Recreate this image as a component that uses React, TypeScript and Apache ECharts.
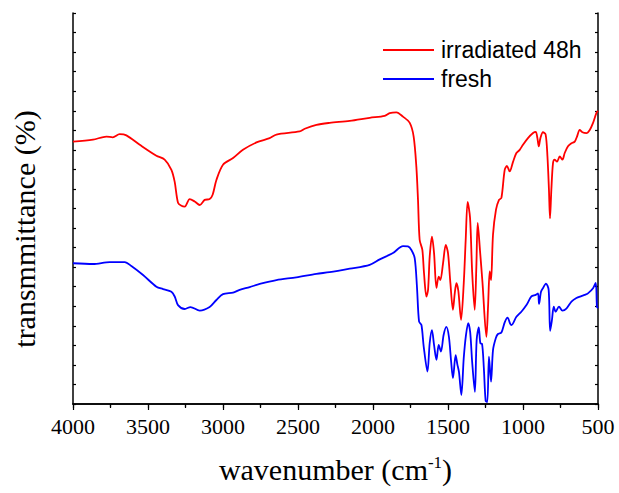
import React, { useEffect, useRef } from "react";
import * as echarts from "echarts";

const seriesNames = ["irradiated 48h", "fresh"];
const xTicks = [4000, 3500, 3000, 2500, 2000, 1500, 1000, 500];

const redWavenumbers = [4000, 3867, 3777, 3735, 3689, 3644, 3555, 3444, 3389, 3344, 3322, 3300, 3277, 3255, 3222, 3189, 3155, 3122, 3089, 3069, 3044, 3000, 2933, 2867, 2777, 2689, 2644, 2489, 2455, 2377, 2289, 2155, 2022, 1922, 1889, 1844, 1800, 1755, 1729, 1711, 1700, 1689, 1671, 1660, 1644, 1633, 1622, 1607, 1593, 1577, 1562, 1551, 1533, 1515, 1500, 1484, 1467, 1455, 1444, 1431, 1413, 1395, 1382, 1369, 1353, 1339, 1322, 1311, 1302, 1287, 1270, 1244, 1233, 1222, 1213, 1200, 1180, 1160, 1144, 1122, 1107, 1089, 1066, 1044, 1022, 1000, 967, 933, 915, 904, 895, 884, 867, 849, 837, 827, 820, 811, 800, 789, 773, 755, 737, 722, 700, 677, 655, 640, 622, 604, 577, 555, 533, 511, 500];
const redValues = [67.1, 67.6, 68.4, 68.2, 69.0, 68.7, 66.3, 63.5, 62.5, 59.9, 56.8, 51.5, 50.7, 50.5, 52.4, 51.8, 50.9, 52.2, 52.4, 53.5, 57.3, 61.2, 62.9, 65.0, 66.9, 68.0, 68.9, 69.7, 70.4, 71.4, 71.9, 72.4, 73.2, 73.7, 74.4, 74.6, 73.5, 71.9, 68.4, 60.7, 52.2, 42.0, 39.4, 33.5, 27.5, 29.2, 37.7, 42.8, 38.6, 29.7, 32.6, 31.7, 36.0, 40.7, 38.6, 30.9, 24.1, 28.3, 30.9, 28.9, 21.5, 30.9, 42.0, 51.7, 47.6, 33.8, 24.1, 35.1, 46.3, 39.4, 31.0, 17.2, 24.9, 33.9, 31.7, 43.3, 49.7, 52.2, 52.7, 59.9, 60.9, 59.5, 62.0, 64.2, 65.0, 66.3, 68.0, 69.3, 69.6, 68.0, 65.9, 68.0, 69.5, 68.9, 63.3, 54.8, 47.5, 54.8, 61.6, 62.5, 62.0, 63.3, 62.5, 64.2, 65.9, 66.7, 67.1, 68.4, 70.1, 69.5, 69.3, 70.1, 71.9, 74.4, 75.0];

const blueWavenumbers = [4000, 3867, 3755, 3655, 3611, 3533, 3444, 3400, 3344, 3322, 3300, 3255, 3217, 3155, 3089, 3044, 3000, 2933, 2889, 2822, 2755, 2644, 2511, 2377, 2289, 2155, 2022, 1955, 1867, 1800, 1767, 1744, 1722, 1707, 1693, 1677, 1662, 1637, 1622, 1607, 1593, 1577, 1562, 1547, 1529, 1511, 1494, 1479, 1467, 1449, 1438, 1427, 1411, 1395, 1380, 1365, 1352, 1339, 1321, 1309, 1295, 1284, 1273, 1261, 1249, 1238, 1227, 1213, 1200, 1181, 1167, 1144, 1122, 1103, 1085, 1077, 1044, 1011, 977, 944, 915, 900, 893, 880, 867, 847, 829, 819, 807, 795, 782, 760, 737, 711, 677, 644, 611, 589, 567, 533, 515, 507, 500];
const blueValues = [36.0, 35.8, 36.3, 36.3, 35.3, 33.0, 30.0, 29.4, 28.7, 27.5, 25.3, 24.3, 24.8, 23.9, 24.8, 26.6, 28.1, 28.5, 29.2, 29.9, 30.7, 31.7, 32.4, 33.3, 33.7, 34.6, 35.6, 37.0, 38.6, 40.4, 40.3, 39.4, 37.3, 30.0, 21.1, 20.2, 14.7, 8.3, 15.6, 18.9, 15.1, 11.3, 15.1, 13.4, 17.7, 19.7, 17.2, 10.8, 6.6, 12.5, 10.2, 8.2, 2.3, 11.8, 17.7, 20.7, 18.3, 10.8, 3.1, 16.4, 19.6, 15.5, 15.4, 9.2, 0.8, 0.5, 12.1, 5.7, 13.8, 16.9, 17.9, 18.3, 20.9, 22.1, 20.5, 20.2, 22.3, 23.6, 25.3, 27.5, 27.9, 28.3, 25.6, 28.7, 29.6, 30.8, 29.2, 18.7, 21.5, 24.9, 23.6, 24.9, 23.9, 24.4, 26.2, 27.1, 27.6, 27.9, 28.3, 29.6, 31.0, 24.9, 24.5];

const zip = (xs: number[], ys: number[]) => xs.map((x, i) => [x, ys[i]]);

export default function App() {
  const ref = useRef<HTMLDivElement>(null);
  useEffect(() => {
    if (!ref.current) return;
    const chart = echarts.init(ref.current, null, { renderer: "svg" });
    const serif = "'Liberation Serif', 'Times New Roman', serif";
    const axisLine = { show: true, lineStyle: { color: "#000", width: 1.5 } };
    chart.setOption({
      animation: false,
      backgroundColor: "#fff",
      grid: { left: 73, right: 21, top: 13, bottom: 89, containLabel: false },
      legend: {
        orient: "vertical",
        left: 383,
        top: 38,
        padding: 0,
        icon: "rect",
        itemWidth: 51,
        itemHeight: 2,
        itemGap: 5,
        data: seriesNames,
        textStyle: { fontFamily: "'Liberation Sans', Arial, sans-serif", fontSize: 23, color: "#000", lineHeight: 24, padding: [0, 0, 0, 2] },
      },
      xAxis: [
        {
          type: "value",
          position: "bottom",
          min: 500,
          max: 4000,
          interval: 500,
          inverse: true,
          name: "{a|wavenumber (cm}{s|-1}{a|)}",
          nameLocation: "middle",
          nameGap: 50,
          nameTextStyle: {
            rich: {
              a: { fontFamily: serif, fontSize: 30, color: "#000" },
              s: { fontFamily: serif, fontSize: 17, color: "#000", verticalAlign: "top", padding: [0, 0, 14, 0] },
            },
          },
          axisLine,
          axisTick: { show: true, inside: false, length: 6, lineStyle: { color: "#000", width: 1.2 } },
          minorTick: { show: true, splitNumber: 2, length: 3, lineStyle: { color: "#000", width: 1.2 } },
          splitLine: { show: false },
          axisLabel: {
            fontFamily: serif,
            fontSize: 22,
            color: "#000",
            margin: 11,
            formatter: (v: number) => (xTicks.includes(v) ? String(v) : ""),
          },
        },
        {
          type: "value",
          position: "top",
          min: 500,
          max: 4000,
          interval: 250,
          inverse: true,
          axisLine,
          axisTick: { show: true, inside: true, length: 4, lineStyle: { color: "#000", width: 1.2 } },
          axisLabel: { show: false },
          splitLine: { show: false },
        },
      ],
      yAxis: [
        {
          type: "value",
          position: "left",
          min: 0,
          max: 100,
          interval: 5,
          axisLine,
          axisTick: { show: true, inside: true, length: 3, lineStyle: { color: "#000", width: 1.2 } },
          axisLabel: { show: false },
          splitLine: { show: false },
        },
        {
          type: "value",
          position: "right",
          min: 0,
          max: 100,
          interval: 5,
          axisLine,
          axisTick: { show: true, inside: true, length: 3, lineStyle: { color: "#000", width: 1.2 } },
          axisLabel: { show: false },
          splitLine: { show: false },
        },
      ],
      graphic: [
        {
          type: "text",
          x: 24,
          y: 229,
          rotation: Math.PI / 2,
          style: {
            text: "transmmittance (%)",
            font: "30px 'Liberation Serif', 'Times New Roman', serif",
            fill: "#000",
            textAlign: "center",
            textVerticalAlign: "middle",
          },
        },
      ],
      series: [
        {
          name: seriesNames[0],
          type: "line",
          xAxisIndex: 0,
          yAxisIndex: 0,
          data: zip(redWavenumbers, redValues),
          symbol: "none",
          smooth: 0.3,
          lineStyle: { color: "#ff0000", width: 1.8 },
          itemStyle: { color: "#ff0000" },
        },
        {
          name: seriesNames[1],
          type: "line",
          xAxisIndex: 0,
          yAxisIndex: 0,
          data: zip(blueWavenumbers, blueValues),
          symbol: "none",
          smooth: 0.3,
          lineStyle: { color: "#0000ff", width: 1.8 },
          itemStyle: { color: "#0000ff" },
        },
      ],
    });
    return () => chart.dispose();
  }, []);
  return <div ref={ref} style={{ width: 619, height: 493, position: "absolute", left: 0, top: 0 }} />;
}
